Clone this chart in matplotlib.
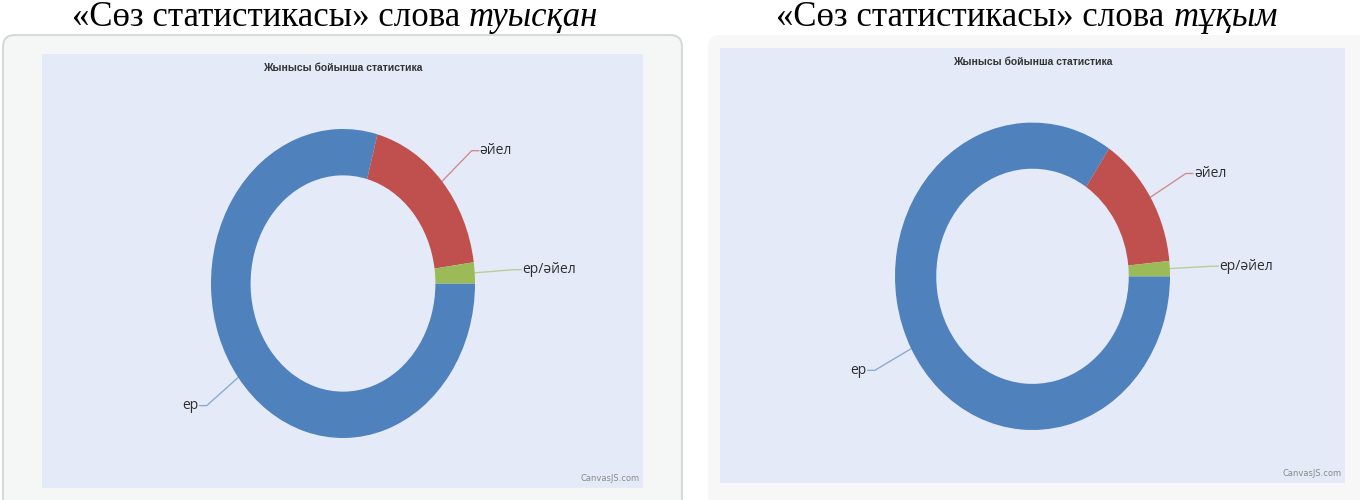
import matplotlib.pyplot as plt
import numpy as np
from matplotlib.patches import FancyBboxPatch, Rectangle

# --- data (share of each category) ---
categories = ["ер", "әйел", "ер/әйел"]
values_tuysqan = [79.2, 18.6, 2.2]
values_tuqym = [84.4, 14.0, 1.6]
slice_colors = ["#4F81BD", "#C0504D", "#9BBB59"]

title_plain = "«Сөз статистикасы» слова "
title_words = ["туысқан", "тұқым"]
inner_title = "Жынысы бойынша статистика"

W, H = 1360, 500
fig = plt.figure(figsize=(W / 100, H / 100), dpi=100)
fig.patch.set_facecolor("white")


def fx(x):
    return x / W


def fy(y):
    return 1 - y / H


def add_px_axes(x0, y0, x1, y1, **kw):
    return fig.add_axes([fx(x0), fy(y1), (x1 - x0) / W, (y1 - y0) / H], **kw)


def draw_title(cx, cy, word):
    r = fig.canvas.get_renderer()
    t1 = fig.text(0, fy(cy), title_plain, family="Liberation Serif",
                  fontsize=25, va="center", ha="left")
    t2 = fig.text(0, fy(cy), word, family="Liberation Serif", style="italic",
                  fontsize=25, va="center", ha="left")
    w1 = t1.get_window_extent(r).width
    w2 = t2.get_window_extent(r).width
    x0 = cx - (w1 + w2) / 2
    t1.set_x(fx(x0))
    t2.set_x(fx(x0 + w1))


def draw_panel(frame, plot, ellipse, values, word, title_x, frame_style):
    # outer frame
    bg = fig.add_axes([0, 0, 1, 1], zorder=0)
    bg.set_xlim(0, W)
    bg.set_ylim(H, 0)
    bg.axis("off")
    fx0, fy0, fx1, fy1 = frame
    bg.add_patch(FancyBboxPatch((fx0, fy0), fx1 - fx0, fy1 - fy0,
                                boxstyle="round,pad=0,rounding_size=12",
                                facecolor=frame_style[0], edgecolor=frame_style[1],
                                linewidth=frame_style[2]))
    px0, py0, px1, py1 = plot
    bg.add_patch(Rectangle((px0, py0), px1 - px0, py1 - py0,
                           facecolor="#E5EAF8", edgecolor="none"))
    bg.text((px0 + px1) / 2, py0 + 14, inner_title,
            family="Liberation Sans", fontweight="bold",
            fontsize=7.5, color="#333333", ha="center", va="center")
    bg.text(px1 - 3, py1 - 5, "CanvasJS.com", family="DejaVu Sans",
            fontsize=6, color="#8a8a8a", ha="right", va="bottom")

    # donut
    cx, cy, rx, ry = ellipse
    ax = add_px_axes(cx - rx, cy - ry, cx + rx, cy + ry, zorder=2)
    wedges, _ = ax.pie(values, colors=slice_colors, startangle=0,
                       counterclock=False,
                       wedgeprops=dict(width=0.30, edgecolor="none"))
    ax.set_aspect("auto")
    ax.set_xlim(-1, 1)
    ax.set_ylim(-1, 1)
    ax.axis("off")

    for wdg, label, col in zip(wedges, categories, slice_colors):
        mid = np.deg2rad((wdg.theta1 + wdg.theta2) / 2)
        x1, y1 = np.cos(mid), np.sin(mid)
        x2, y2 = 1.3 * x1, 1.3 * y1
        side = 1 if x1 >= 0 else -1
        x3 = x2 + side * 7 / rx
        ax.plot([x1, x2, x3], [y1, y2, y2], color=col, alpha=0.6, lw=1,
                clip_on=False)
        ax.text(x3 + side * 1 / rx, y2, label, family="Open Sans",
                fontsize=10, color="#2e2e2e",
                ha="left" if side > 0 else "right", va="center")

    draw_title(title_x, 17, word)


draw_panel((3, 35, 682, 520), (42, 54, 643, 488), (343, 283.5, 132, 154.5),
           values_tuysqan, title_words[0], 335, ("#F5F6F6", "#D6D9DB", 1.5))
draw_panel((708, 35, 1375, 520), (720, 48, 1345, 483), (1032.5, 276.3, 137.5, 153.7),
           values_tuqym, title_words[1], 1027, ("#F7F7F7", "none", 0))

fig.savefig("out.png", dpi=100)
